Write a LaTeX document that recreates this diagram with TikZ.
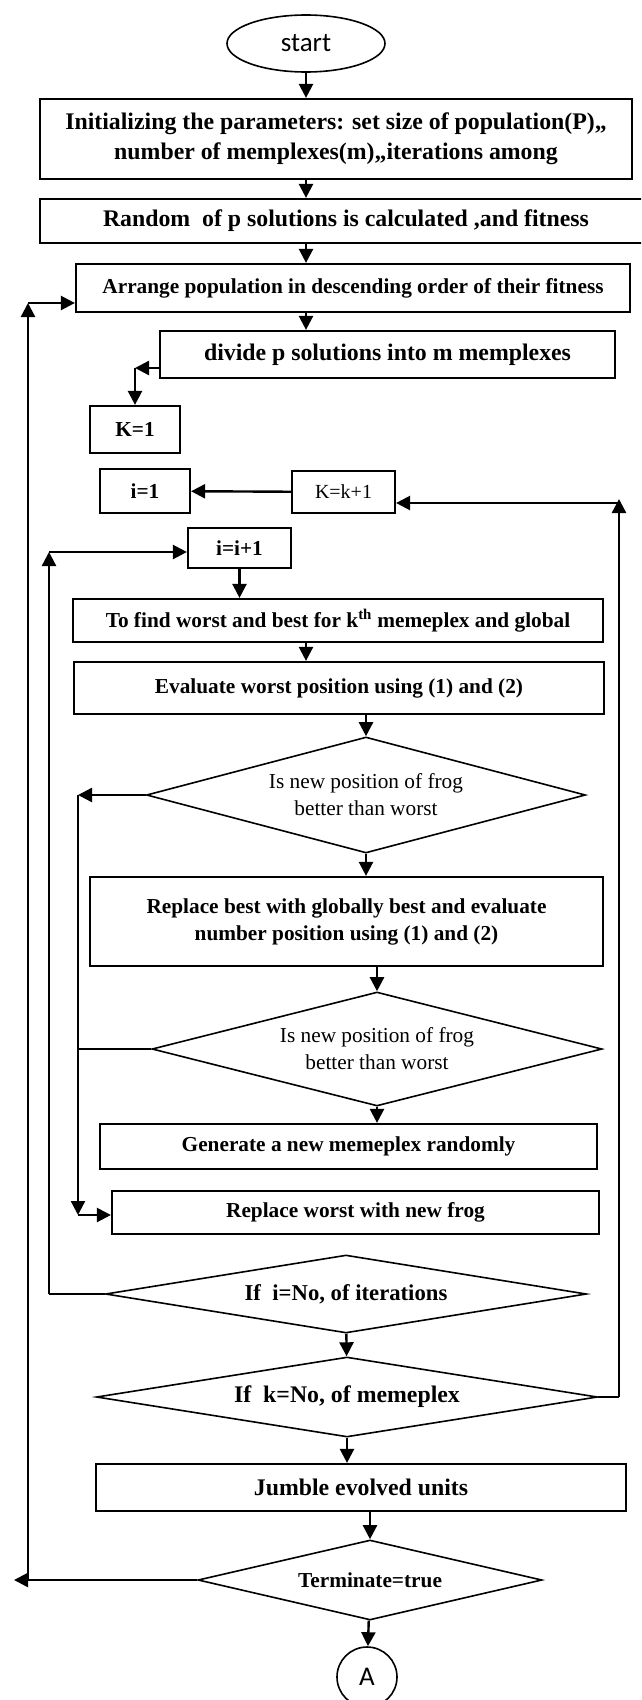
\documentclass[tikz,border=0pt]{standalone}
\usepackage{fontspec}
\setmainfont{Liberation Serif}
\newfontfamily\calfont{Carlito}
\usetikzlibrary{shapes.geometric, arrows.meta}

\begin{document}
\begin{tikzpicture}[x=1pt, y=-1pt, line width=2.4pt,
    box/.style={draw, rectangle, line width=2.2pt, inner sep=0pt, align=center, font=\bfseries\fontsize{21.3}{27}\selectfont},
    bigbox/.style={box, font=\bfseries\fontsize{23.8}{30}\selectfont},
    dec/.style={draw, diamond, aspect=4, line width=1.6pt, inner sep=0pt, align=center, font=\fontsize{21.3}{27}\selectfont},
    arr/.style={-{Triangle[length=14pt, width=14pt]}}]
    \clip (0, 0) rectangle (641, 1700);

    \node[draw, ellipse, line width=1.6pt, minimum width=158pt, minimum height=57pt, inner sep=0pt, font=\calfont\fontsize{27}{30}\selectfont] (start) at (306, 43.5) {start};
    \node[bigbox, minimum width=592pt, minimum height=80pt] (init) at (336, 139) {Initializing the parameters: set size of population(P),,\\ number of memplexes(m),,iterations among};
    \node[bigbox, minimum width=612pt, minimum height=44pt] (rand) at (346, 221) {Random\ \ of p solutions is calculated ,and fitness};
    \node[box, minimum width=554pt, minimum height=48pt] (arrange) at (353, 288) {Arrange population in descending order of their fitness};
    \node[bigbox, minimum width=455pt, minimum height=47pt] (divide) at (387.5, 354.5) {divide p solutions into m memplexes};
    \node[box, minimum width=90pt, minimum height=47pt] (k1) at (135, 429.5) {K=1};
    \node[box, minimum width=90pt, minimum height=44pt] (i1) at (145, 491) {i=1};
    \node[box, font=\fontsize{20}{24}\selectfont, minimum width=103pt, minimum height=42pt] (kinc) at (343.5, 492) {K=k+1};
    \node[box, minimum width=103pt, minimum height=40pt] (iinc) at (239.5, 548) {i=i+1};
    \node[box, minimum width=530pt, minimum height=43pt] (find) at (338, 620.5) {To find worst and best for k\textsuperscript{th} memeplex and global};
    \node[box, minimum width=530pt, minimum height=52pt] (eval) at (339, 688) {Evaluate worst position using (1) and (2)};
    \node[dec, minimum width=439pt, minimum height=116pt] (better1) at (366, 795) {Is new position of frog\\ better than worst};
    \node[box, minimum width=513pt, minimum height=89pt] (repbest) at (346.5, 921.5) {Replace best with globally best and evaluate\\ number position using (1) and (2)};
    \node[dec, minimum width=450pt, minimum height=114pt] (better2) at (377, 1049) {Is new position of frog\\ better than worst};
    \node[box, minimum width=497pt, minimum height=45pt] (gen) at (348.5, 1146.5) {Generate a new memeplex randomly};
    \node[box, minimum width=487pt, minimum height=43pt] (repworst) at (355.5, 1212.5) {Replace worst with new frog};
    \node[dec, font=\bfseries\fontsize{22.7}{27}\selectfont, minimum width=481pt, minimum height=78pt] (iend) at (346, 1294) {If\ \ i=No, of iterations};
    \node[dec, font=\bfseries\fontsize{23.8}{28}\selectfont, minimum width=501pt, minimum height=80pt] (kend) at (347, 1397) {If\ \ k=No, of memeplex};
    \node[bigbox, minimum width=530pt, minimum height=47pt] (jumble) at (361, 1487.5) {Jumble evolved units};
    \node[dec, font=\bfseries\fontsize{21.3}{27}\selectfont, minimum width=344pt, minimum height=80pt] (term) at (370, 1580) {Terminate=true};
    \node[draw, circle, line width=1.6pt, minimum size=60pt, inner sep=0pt, font=\calfont\fontsize{27}{30}\selectfont] (conA) at (367, 1677) {A};

    \draw[arr] (start) -- (start |- init.north);
    \draw[arr] (init.south -| start) -- (rand.north -| start);
    \draw[arr] (rand.south -| start) -- (arrange.north -| start);
    \draw[arr] (arrange.south -| start) -- (divide.north -| start);
    \coordinate (kturn) at (135, 368);
    \draw[arr] (kturn -| divide.west) -- (kturn);
    \draw[arr] (kturn) -- (k1);
    \draw[arr] (kinc) -- (i1);
    \draw[arr] (iinc) -- (iinc |- find.north);
    \draw[arr] (find.south -| start) -- (eval.north -| start);
    \draw[arr] (eval.south -| better1) -- (better1);
    \draw[arr] (better1) -- (better1 |- repbest.north);
    \draw[arr] (repbest.south -| better2) -- (better2);
    \draw[arr] (better2) -- (better2 |- gen.north);
    \draw[arr] (iend) -- (kend);
    \draw[arr] (kend) -- (kend |- jumble.north);
    \draw[arr] (jumble.south -| term) -- (term);
    \draw[arr] (term) -- (conA);

    \coordinate (outer) at (28, 303);
    \coordinate (outend) at (14, 1580);
    \draw[arr] (term.west) -- (outend);
    \draw[arr] (outer |- term.west) -- (outer);
    \draw[arr] (outer) -- (outer -| arrange.west);

    \coordinate (inner) at (49, 552);
    \draw[line width=1.8pt] (iend.west) -- (inner |- iend.west);
    \draw[arr] (inner |- iend.west) -- (inner);
    \draw[arr] (inner) -- (inner -| iinc.west);

    \coordinate (side) at (78, 795);
    \coordinate (sidebot) at (78, 1215);
    \draw[arr] (better1.west) -- (side);
    \draw[arr] (side) -- (sidebot);
    \draw[arr] (sidebot) -- (sidebot -| repworst.west);
    \draw[line width=1.4pt] (better2.west) -- (better2.west -| side);

    \coordinate (right) at (619, 499);
    \coordinate (rightin) at (619, 503);
    \draw (kend.east) -- (right |- kend.east);
    \draw[arr] (right |- kend.east) -- (right);
    \draw[arr] (rightin) -- (rightin -| kinc.east);
\end{tikzpicture}
\end{document}
